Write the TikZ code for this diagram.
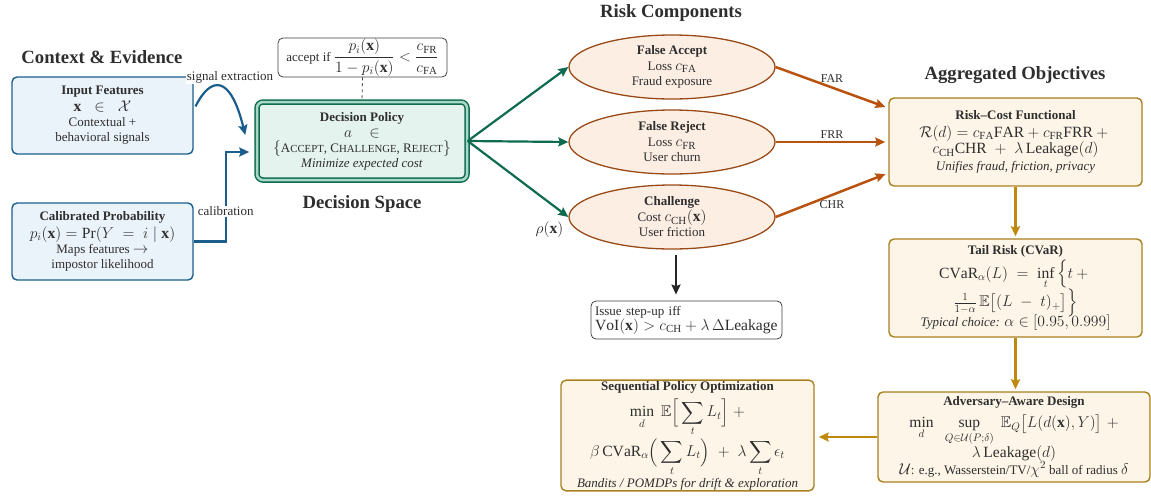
\RequirePackage{fix-cm}
\documentclass[tikz,border=0pt]{standalone}
\usepackage{amsmath,amssymb}
\usepackage{fontspec}
\setmainfont{Liberation Serif}
\DeclareMathSizes{13}{15.6}{10.9}{7.8}
\usetikzlibrary{arrows.meta,shapes.geometric,calc}
\definecolor{txt}{HTML}{2E2E2E}
\definecolor{blueB}{HTML}{1B5E8E}
\definecolor{blueF}{HTML}{EBF3FA}
\definecolor{greenB}{HTML}{0E6B50}
\definecolor{greenF}{HTML}{E4F3EE}
\definecolor{greenD}{HTML}{A9D9C6}
\definecolor{ellB}{HTML}{9A4A17}
\definecolor{ellF}{HTML}{FCEEE3}
\definecolor{orA}{HTML}{B8520E}
\definecolor{goldB}{HTML}{A9801E}
\definecolor{goldA}{HTML}{BF890E}
\definecolor{goldF}{HTML}{FDF5E7}
\newcommand{\mysc}[2]{#1{\fontsize{10.8}{12}\selectfont #2}}
\tikzset{
  base/.style={align=center, font=\fontsize{13}{15}\selectfont, text=txt, inner sep=2pt},
  ttl/.style={align=center, font=\fontsize{18.7}{22}\selectfont\bfseries, text=txt},
  bluebox/.style={base, draw=blueB, fill=blueF, line width=1.4pt, rounded corners=5pt,
    minimum width=181pt, minimum height=77pt},
  policybox/.style={base, draw=greenB, line width=1.5pt, double=greenD, double distance=2.5pt,
    fill=greenF, rounded corners=6pt, minimum width=210pt, minimum height=78pt},
  ellnode/.style={base, ellipse, draw=ellB, fill=ellF, line width=1.3pt, inner sep=0pt,
    minimum width=206pt, minimum height=64pt},
  goldbox/.style={base, draw=goldB, fill=goldF, line width=1.4pt, rounded corners=5pt},
  notebox/.style={base, draw=black!75, fill=white, line width=0.8pt, rounded corners=5pt},
  tip/.style={-{Stealth[length=10pt,width=9pt,inset=1.5pt]}},
  bluearr/.style={tip, draw=blueB, line width=2.2pt},
  greenarr/.style={tip, draw=greenB, line width=2.2pt},
  orarr/.style={tip, draw=orA, line width=2.5pt},
  goldarr/.style={tip, draw=goldA, line width=2.5pt},
  blackarr/.style={tip, draw=black!85, line width=2.5pt},
  lbl/.style={font=\fontsize{12}{14}\selectfont, text=txt, inner sep=1pt},
}
\begin{document}
\begin{tikzpicture}[x=1pt,y=-1pt]
\useasboundingbox (0,0) rectangle (1151,496);

% titles
\node[ttl] (tctx) at (102,57) {Context \& Evidence};
\node[ttl] (tdec) at (362,204) {Decision Space};
\node[ttl] (trisk) at (671,13) {Risk Components};
\node[ttl] (tagg) at (1015,75) {Aggregated Objectives};

% context boxes
\node[bluebox] (inf) at (102.5,115.5) {\textbf{Input Features}\\[2pt]
  $\mathbf{x}\;\;\in\;\;\mathcal{X}$\\ Contextual +\\ behavioral signals};
\node[bluebox] (cal) at (102.5,241.5) {\textbf{Calibrated Probability}\\[3pt]
  $p_i(\mathbf{x}) = \Pr(Y \;=\; i \mid \mathbf{x})$\\ Maps features $\rightarrow$\\ impostor likelihood};

% decision
\node[policybox] (dp) at (362,141) {\textbf{Decision Policy}\\[1pt]
  $a \quad \in$\\
  $\{$\mysc{A}{CCEPT}, \mysc{C}{HALLENGE}, \mysc{R}{EJECT}$\}$\\
  \textit{Minimize expected cost}};
\node[notebox, minimum width=169pt, minimum height=39pt, inner sep=1pt] (acc) at (362.5,57.5)
  {accept if $\dfrac{p_i(\mathbf{x})}{1-p_i(\mathbf{x})} < \dfrac{c_{\mathrm{FR}}}{c_{\mathrm{FA}}}$};

% risk components
\node[ellnode] (fa) at (672,67) {\textbf{False Accept}\\[1pt] Loss $c_{\mathrm{FA}}$\\ Fraud exposure};
\node[ellnode] (fr) at (672,142) {\textbf{False Reject}\\[1pt] Loss $c_{\mathrm{FR}}$\\ User churn};
\node[ellnode] (ch) at (672,217) {\textbf{Challenge}\\[1pt] Cost $c_{\mathrm{CH}}(\mathbf{x})$\\ User friction};
\node[notebox, align=left, text width=183pt, inner xsep=4pt, inner ysep=1pt, minimum height=38pt] (su) at (686.5,320)
  {Issue step-up iff\\ $\mathrm{VoI}(\mathbf{x}) > c_{\mathrm{CH}} + \lambda\,\Delta\mathrm{Leakage}$};

% objectives
\node[goldbox, minimum width=253pt, minimum height=88pt] (rc) at (1015.5,142)
  {\textbf{Risk--Cost Functional}\\[3pt]
  $\mathcal{R}(d) = c_{\mathrm{FA}}\mathrm{FAR} + c_{\mathrm{FR}}\mathrm{FRR} +{}$\\
  $c_{\mathrm{CH}}\mathrm{CHR} \;+\; \lambda\,\mathrm{Leakage}(d)$\\[2pt]
  \textit{Unifies fraud, friction, privacy}};
\node[goldbox, minimum width=253pt, minimum height=98pt] (tail) at (1015.5,288)
  {\textbf{Tail Risk (CVaR)}\\[2pt]
  $\displaystyle \mathrm{CVaR}_\alpha(L) \;=\; \inf_t \Big\{ t +{}$\\[-1pt]
  $\tfrac{1}{1-\alpha}\,\mathbb{E}\big[(L\;-\;t)_+\big]\Big\}$\\[-3pt]
  \textit{Typical choice:} $\alpha \in [0.95, 0.999]$};
\node[goldbox, minimum width=272pt, minimum height=90pt] (adv) at (1014,437)
  {\textbf{Adversary--Aware Design}\\[5pt]
  $\displaystyle \min_d \;\; \sup_{Q\in\mathcal{U}(P;\delta)} \;\mathbb{E}_Q\big[L(d(\mathbf{x}),Y)\big] \;+$\\[-1pt]
  $\lambda\,\mathrm{Leakage}(d)$\\[-1pt]
  $\mathcal{U}$: e.g., Wasserstein/TV/$\chi^2$ ball of radius $\delta$};
\node[goldbox, minimum width=253pt, minimum height=109pt, inner ysep=1pt] (seq) at (687.5,435.5)
  {\textbf{Sequential Policy Optimization}\\[5pt]
  $\displaystyle \min_d \;\mathbb{E}\Big[\sum_t L_t\Big] \;+$\\[1pt]
  $\displaystyle \beta\,\mathrm{CVaR}_\alpha\Big(\sum_t L_t\Big) \;+\; \lambda\sum_t \epsilon_t$\\[1pt]
  \textit{Bandits / POMDPs for drift \& exploration}};

% connectors
\draw[bluearr, shorten <=4pt] ([yshift=5.5pt]inf.east) .. controls +(17,-34) and +(-15,-61) .. ([xshift=-11pt,yshift=6pt]dp.west);
\node[base, fill=white, inner sep=1pt] (sig) at (230,77) {signal extraction};
\draw[bluearr] (cal.east) -- ++(32,0) |- ([xshift=-7pt,yshift=-11pt]dp.west)
  node[pos=0.17, base, fill=white, inner sep=1pt] (calib) {calibration};
\draw[black!75, dashed, line width=0.8pt] (acc.south) -- (dp.north);

\draw[greenarr] (dp.east) -- (fa.west);
\draw[greenarr] (dp.east) -- (fr.west);
\draw[greenarr] (dp.east) -- (ch.west) node[pos=1, below left=3pt, base, inner sep=1pt] (rho) {$\rho(\mathbf{x})$};

\draw[orarr, shorten >=3pt] (fa.east) -- ([yshift=34pt]rc.west) node[midway, above=3pt, lbl] (far) {FAR};
\draw[orarr, shorten >=3pt] (fr.east) -- (rc.west) node[midway, above=1pt, lbl] (frr) {FRR};
\draw[orarr, shorten >=3pt] (ch.east) -- ([yshift=-31pt]rc.west) node[midway, below=3pt, lbl] (chr) {CHR};

\draw[blackarr, shorten <=5pt, shorten >=6pt] ([xshift=4pt]ch.south) -- ([xshift=4pt]ch.south |- su.north);

\draw[goldarr, shorten >=2pt] (rc.south) -- (rc.south |- tail.north);
\draw[goldarr, shorten >=2pt] (tail.south) -- (tail.south |- adv.north);
\draw[goldarr, shorten >=4pt] (adv.west) -- (adv.west -| seq.east);
\end{tikzpicture}
\end{document}
